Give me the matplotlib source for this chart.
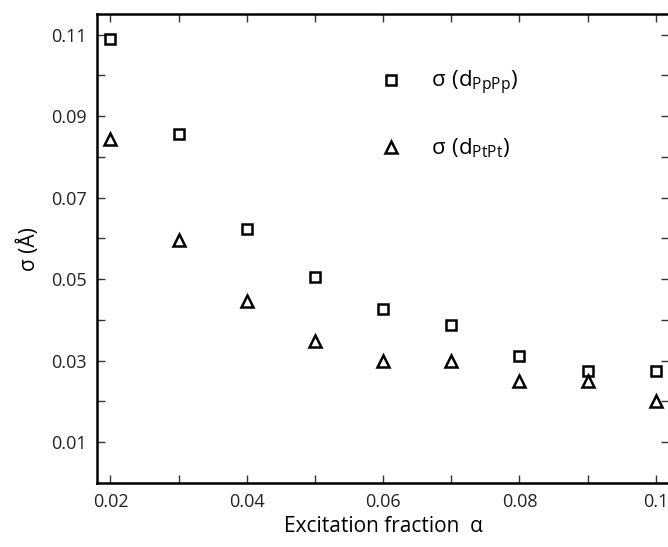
import numpy as np
import matplotlib
matplotlib.use("Agg")
import matplotlib.pyplot as plt

plt.rcParams['font.family'] = ['Open Sans', 'DejaVu Sans']
plt.rcParams['mathtext.fontset'] = 'custom'
plt.rcParams['mathtext.rm'] = 'Open Sans'
plt.rcParams['mathtext.it'] = 'Open Sans'

# excitation fraction alpha
alpha = [0.02, 0.03, 0.04, 0.05, 0.06, 0.07, 0.08, 0.09, 0.10]
# sigma of d_PpPp and d_PtPt (Angstrom)
sig_pp = [0.109, 0.0857, 0.0624, 0.0505, 0.0427, 0.0388, 0.0312, 0.0274, 0.0274]
sig_pt = [0.0845, 0.0596, 0.0446, 0.0348, 0.0300, 0.0300, 0.0251, 0.0251, 0.0202]

xticks = [0.02, 0.04, 0.06, 0.08, 0.1]
xticklabels = ['0.02', '0.04', '0.06', '0.08', '0.1']
yticks = [0.01, 0.03, 0.05, 0.07, 0.09, 0.11]
yticklabels = ['0.01', '0.03', '0.05', '0.07', '0.09', '0.11']

fig = plt.figure(figsize=(6.68, 5.47), dpi=100)
ax = fig.add_axes([0.145, 0.117, 0.857, 0.857])

ax.plot(alpha, sig_pp, 's', ms=6.5, mfc='white', mec='black', mew=1.8,
        linestyle='none', label=r'$\sigma\ (\mathrm{d}_{\mathrm{PpPp}})$')
ax.plot(alpha, sig_pt, '^', ms=8, mfc='white', mec='black', mew=1.8,
        linestyle='none', label=r'$\sigma\ (\mathrm{d}_{\mathrm{PtPt}})$')

ax.set_xlim(0.018, 0.102)
ax.set_ylim(0.0, 0.115)
ax.set_xticks(xticks)
ax.set_xticklabels(xticklabels)
ax.set_xticks([0.03, 0.05, 0.07, 0.09], minor=True)
ax.set_yticks(yticks)
ax.set_yticklabels(yticklabels)
ax.set_yticks([0.02, 0.04, 0.06, 0.08, 0.10], minor=True)

ax.tick_params(which='both', direction='in', top=True, right=True,
               labelsize=13, width=1, colors='#333333', labelcolor='#222222')
ax.tick_params(which='major', length=6, pad=7)
ax.tick_params(which='minor', length=6)
for s in ax.spines.values():
    s.set_linewidth(1.8)

ax.set_xlabel('Excitation fraction  α', fontsize=15, labelpad=4)
ax.set_ylabel('σ (Å)', fontsize=15, labelpad=8)

ax.legend(loc='upper left', bbox_to_anchor=(0.44, 0.925), frameon=False,
          fontsize=16, labelspacing=1.75, handletextpad=0.8, numpoints=1)

fig.savefig('out.png', dpi=100)
